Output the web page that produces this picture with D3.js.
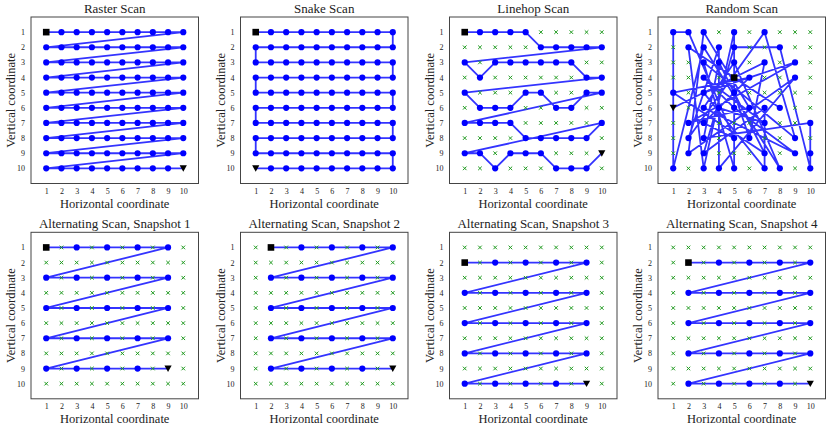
<!DOCTYPE html>
<html><head><meta charset="utf-8">
<script src="https://cdn.jsdelivr.net/npm/d3@7/dist/d3.min.js"></script>
<style>
body{margin:0;background:#fff}
svg{display:block}
text{font-family:"Liberation Serif","DejaVu Serif",serif;fill:#222}
</style></head>
<body><svg id="c" width="830" height="430"></svg>
<script>
// ---------- DATA ----------
const tickValues = [1,2,3,4,5,6,7,8,9,10];
const tickLabels = ["1","2","3","4","5","6","7","8","9","10"];
const titles = ["Raster Scan","Snake Scan","Linehop Scan","Random Scan",
  "Alternating Scan, Snapshot 1","Alternating Scan, Snapshot 2","Alternating Scan, Snapshot 3","Alternating Scan, Snapshot 4"];
const xLabel = "Horizontal coordinate";
const yLabel = "Vertical coordinate";

const rasterPath = [
[1,1],[2,1],[3,1],[4,1],[5,1],[6,1],[7,1],[8,1],[9,1],[10,1],
[1,2],[2,2],[3,2],[4,2],[5,2],[6,2],[7,2],[8,2],[9,2],[10,2],
[1,3],[2,3],[3,3],[4,3],[5,3],[6,3],[7,3],[8,3],[9,3],[10,3],
[1,4],[2,4],[3,4],[4,4],[5,4],[6,4],[7,4],[8,4],[9,4],[10,4],
[1,5],[2,5],[3,5],[4,5],[5,5],[6,5],[7,5],[8,5],[9,5],[10,5],
[1,6],[2,6],[3,6],[4,6],[5,6],[6,6],[7,6],[8,6],[9,6],[10,6],
[1,7],[2,7],[3,7],[4,7],[5,7],[6,7],[7,7],[8,7],[9,7],[10,7],
[1,8],[2,8],[3,8],[4,8],[5,8],[6,8],[7,8],[8,8],[9,8],[10,8],
[1,9],[2,9],[3,9],[4,9],[5,9],[6,9],[7,9],[8,9],[9,9],[10,9],
[1,10],[2,10],[3,10],[4,10],[5,10],[6,10],[7,10],[8,10],[9,10],[10,10]];

const snakePath = [
[1,1],[2,1],[3,1],[4,1],[5,1],[6,1],[7,1],[8,1],[9,1],[10,1],
[10,2],[9,2],[8,2],[7,2],[6,2],[5,2],[4,2],[3,2],[2,2],[1,2],
[1,3],[2,3],[3,3],[4,3],[5,3],[6,3],[7,3],[8,3],[9,3],[10,3],
[10,4],[9,4],[8,4],[7,4],[6,4],[5,4],[4,4],[3,4],[2,4],[1,4],
[1,5],[2,5],[3,5],[4,5],[5,5],[6,5],[7,5],[8,5],[9,5],[10,5],
[10,6],[9,6],[8,6],[7,6],[6,6],[5,6],[4,6],[3,6],[2,6],[1,6],
[1,7],[2,7],[3,7],[4,7],[5,7],[6,7],[7,7],[8,7],[9,7],[10,7],
[10,8],[9,8],[8,8],[7,8],[6,8],[5,8],[4,8],[3,8],[2,8],[1,8],
[1,9],[2,9],[3,9],[4,9],[5,9],[6,9],[7,9],[8,9],[9,9],[10,9],
[10,10],[9,10],[8,10],[7,10],[6,10],[5,10],[4,10],[3,10],[2,10],[1,10]];

const linehopPath = [
[1,1],[2,1],[3,1],[4,1],[5,1],[6,2],[7,2],[8,2],[9,2],[10,2],
[1,3],[2,4],[3,3],[4,3],[5,3],[6,3],[7,3],[8,3],[9,4],[10,4],
[1,5],[2,6],[3,6],[4,6],[5,5],[6,5],[7,6],[8,6],[9,5],[10,5],
[1,7],[2,7],[3,7],[4,7],[5,8],[6,8],[7,8],[8,8],[9,8],[10,7],
[1,9],[2,9],[3,10],[4,9],[5,9],[6,9],[7,10],[8,10],[9,10],[10,9]];

const randomPath = [
[5,4],[8,6],[2,2],[3,10],[5,1],[5,10],[3,3],[9,8],[7,1],[2,8],
[4,2],[4,10],[9,4],[2,9],[3,1],[6,6],[2,7],[9,3],[3,5],[7,10],
[7,6],[3,9],[5,2],[8,2],[10,10],[10,9],[10,7],[3,8],[4,3],[7,9],
[1,5],[6,4],[3,7],[5,8],[2,1],[1,1],[1,10],[3,2],[8,10],[5,3],
[3,6],[9,9],[5,6],[3,4],[7,7],[4,6],[5,5],[6,8],[7,3],[1,6]];

const alt1Path = [
[1,1],[3,1],[5,1],[7,1],[9,1],[1,3],[3,3],[5,3],[7,3],[9,3],
[1,5],[3,5],[5,5],[7,5],[9,5],[1,7],[3,7],[5,7],[7,7],[9,7],
[1,9],[3,9],[5,9],[7,9],[9,9]];
const alt2Path = [
[2,1],[4,1],[6,1],[8,1],[10,1],[2,3],[4,3],[6,3],[8,3],[10,3],
[2,5],[4,5],[6,5],[8,5],[10,5],[2,7],[4,7],[6,7],[8,7],[10,7],
[2,9],[4,9],[6,9],[8,9],[10,9]];
const alt3Path = [
[1,2],[3,2],[5,2],[7,2],[9,2],[1,4],[3,4],[5,4],[7,4],[9,4],
[1,6],[3,6],[5,6],[7,6],[9,6],[1,8],[3,8],[5,8],[7,8],[9,8],
[1,10],[3,10],[5,10],[7,10],[9,10]];
const alt4Path = [
[2,2],[4,2],[6,2],[8,2],[10,2],[2,4],[4,4],[6,4],[8,4],[10,4],
[2,6],[4,6],[6,6],[8,6],[10,6],[2,8],[4,8],[6,8],[8,8],[10,8],
[2,10],[4,10],[6,10],[8,10],[10,10]];

const paths = [rasterPath, snakePath, linehopPath, randomPath, alt1Path, alt2Path, alt3Path, alt4Path];

// ---------- LAYOUT ----------
const colLefts = [31, 240.5, 449.5, 658];
const rowTops = [17, 232.3];
const W = 167.5, H = 166.5;
const svg = d3.select("#c");

paths.forEach((path, i) => {
  const left = colLefts[i % 4], top = rowTops[Math.floor(i / 4)];
  const g = svg.append("g").attr("transform", `translate(${left},${top})`);
  const x = d3.scaleLinear().domain([0, 11]).range([0, W]);
  const y = d3.scaleLinear().domain([0, 11]).range([0, H]);

  const xa = g.append("g").attr("transform", `translate(0,${H})`)
    .call(d3.axisBottom(x).tickValues(tickValues).tickFormat((d, k) => tickLabels[k]).tickSize(0).tickPadding(5));
  const ya = g.append("g")
    .call(d3.axisLeft(y).tickValues(tickValues).tickFormat((d, k) => tickLabels[k]).tickSize(0).tickPadding(6));
  [xa, ya].forEach(a => {
    a.select(".domain").remove();
    a.selectAll("text").style("font-family", '"Liberation Serif",serif').style("font-size", "8px").attr("fill", "#333");
  });

  const visited = new Set(path.map(p => p[0] + "," + p[1]));
  const unvisited = [];
  tickValues.forEach(yy => tickValues.forEach(xx => { if (!visited.has(xx + "," + yy)) unvisited.push([xx, yy]); }));

  const line = d3.line().x(d => x(d[0])).y(d => y(d[1]));
  g.append("path").datum(path).attr("d", line)
    .attr("fill", "none").attr("stroke", "#0000ff").attr("stroke-width", 1.8)
    .attr("stroke-opacity", 0.8).attr("stroke-linejoin", "round");

  const s = 1.8;
  g.append("g").selectAll("path").data(unvisited).join("path")
    .attr("d", d => `M${x(d[0]) - s},${y(d[1]) - s}L${x(d[0]) + s},${y(d[1]) + s}M${x(d[0]) - s},${y(d[1]) + s}L${x(d[0]) + s},${y(d[1]) - s}`)
    .attr("stroke", "#1f9a1f").attr("stroke-width", 1).attr("fill", "none");

  g.append("g").selectAll("circle").data(path.slice(1, -1)).join("circle")
    .attr("cx", d => x(d[0])).attr("cy", d => y(d[1])).attr("r", 3.1)
    .attr("fill", "#0000ff");

  const st = path[0], en = path[path.length - 1];
  g.append("rect").attr("x", x(st[0]) - 3.3).attr("y", y(st[1]) - 3.3)
    .attr("width", 6.6).attr("height", 6.6).attr("fill", "#000");
  const ex = x(en[0]), ey = y(en[1]);
  g.append("path").attr("d", `M${ex - 3.6},${ey - 3}L${ex + 3.6},${ey - 3}L${ex},${ey + 3.4}Z`).attr("fill", "#000");

  g.append("rect").attr("width", W).attr("height", H).attr("fill", "none")
    .attr("stroke", "#444").attr("stroke-width", 1);

  g.append("text").attr("x", W / 2).attr("y", -4).attr("text-anchor", "middle")
    .style("font-size", "13px").text(titles[i]);
  g.append("text").attr("x", W / 2).attr("y", H + 24).attr("text-anchor", "middle")
    .style("font-size", "12.5px").text(xLabel);
  g.append("text").attr("transform", `translate(-16,${H / 2}) rotate(-90)`).attr("text-anchor", "middle")
    .style("font-size", "12.5px").text(yLabel);
});
</script></body></html>
